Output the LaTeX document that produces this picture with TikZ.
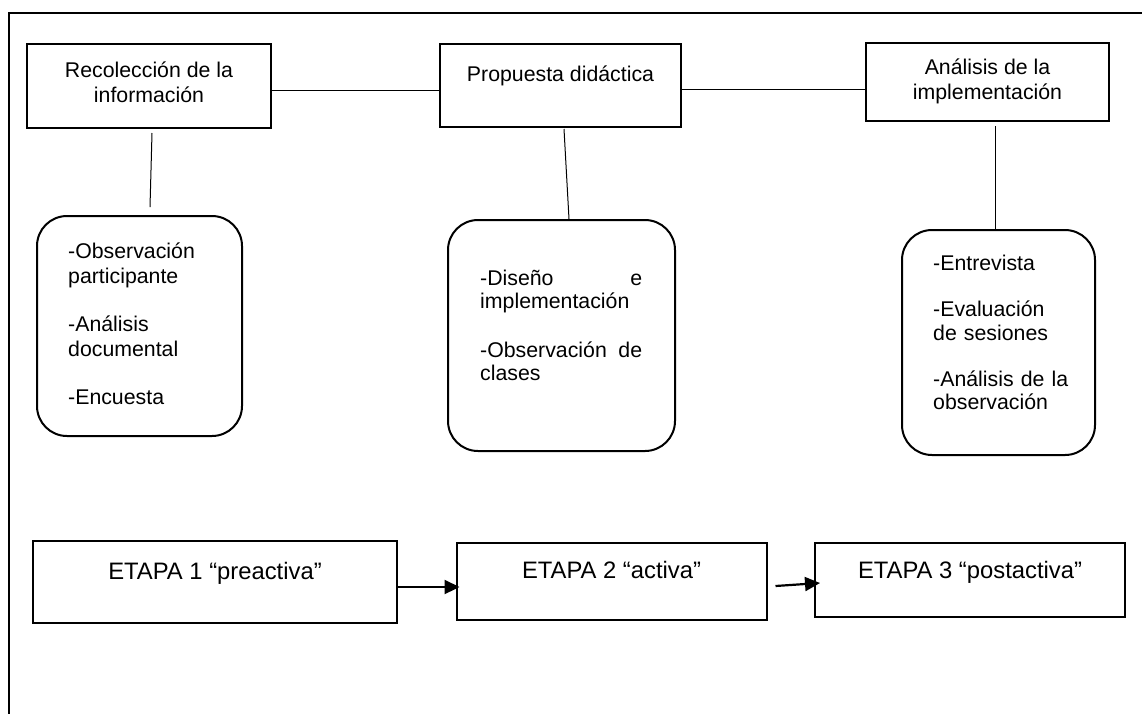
\documentclass[tikz,border=0pt]{standalone}
\usepackage{fontspec}
\setmainfont{Liberation Sans}
\usetikzlibrary{arrows.meta}
\begin{document}
\begin{tikzpicture}[x=1pt,y=-1pt,
  sqbox/.style 2 args={draw,line width=2pt,rectangle,inner sep=0pt,
    minimum width=#1pt,minimum height=#2pt},
  rbox/.style 2 args={draw,line width=2pt,rectangle,rounded corners=30pt,
    inner sep=0pt,minimum width=#1pt,minimum height=#2pt},
  lbl/.style={inner sep=0pt,anchor=base,align=center,
    font=\fontsize{21.3}{25}\selectfont},
  item/.style={inner sep=0pt,anchor=base west,align=left,
    font=\fontsize{21.3}{#1}\selectfont},
  stage/.style={inner sep=0pt,anchor=base,font=\fontsize{23.8}{28}\selectfont},
  link/.style={line width=1pt},
  flow/.style={line width=2.2pt,-{Triangle[length=15pt,width=14pt]}}
]
\useasboundingbox (0,0) rectangle (1142,713);

% outer frame (only top and left edges are visible)
\draw[line width=2pt] (1150,13) -- (9,13) -- (9,720);

% phase headers (multi-line labels sit on the baseline of their last line)
\node[sqbox={244}{84}] (h1) at (149,86) {};
\node[sqbox={241}{83}] (h2) at (560.5,85.5) {};
\node[sqbox={243}{78}] (h3) at (987.5,82) {};
\node[lbl] (h1t) at (149,102) {Recolección de la\\información};
\node[lbl] (h2t) at (560.5,81.5) {Propuesta didáctica};
\node[lbl] (h3t) at (987.5,99.5) {Análisis de la\\implementación};

% technique boxes (text-width nodes sit on the baseline of their first line)
\node[rbox={205}{220}] (r1) at (139.5,326) {};
\node[rbox={227}{231}] (r2) at (561.5,335.5) {};
\node[rbox={193}{225}] (r3) at (998.5,342.5) {};
\node[item=25.5,text width=160pt] (r1t) at (68,258)
  {-Observación\\participante\\[22pt]-Análisis\\documental\\[22pt]-Encuesta};
\node[item=23.5,text width=162pt] (r2t) at (480,285)
  {-Diseño\hfill e\\implementación\\[25pt]-Observación\hfill de\\clases};
\node[item=23.5,text width=155pt] (r3t) at (933,270.5)
  {-Entrevista\\[22.5pt]-Evaluación\\de sesiones\\[22.5pt]-Análisis de la\\observación};

% stage boxes
\node[sqbox={364}{82}] (s1) at (215,582) {};
\node[sqbox={310}{77}] (s2) at (611.5,581.5) {};
\node[sqbox={310}{74}] (s3) at (970,580) {};
\node[stage] (s1t) at (215,579) {ETAPA 1 “preactiva”};
\node[stage] (s2t) at (611.5,578) {ETAPA 2 “activa”};
\node[stage] (s3t) at (970,578) {ETAPA 3 “postactiva”};

% links between headers
\draw[link] (h1.east |- 0,90) -- (h2.west |- 0,90);
\draw[link] (h2.east |- 0,89) -- (h3.west |- 0,89);

% links from headers to technique boxes
\draw[link] ([shift={(3,4)}]h1.south) -- ([shift={(10.5,-8)}]r1.north);
\draw[link] ([shift={(3.5,1)}]h2.south) -- ([shift={(7.5,0)}]r2.north);
\draw[link] ([shift={(7.5,4)}]h3.south) -- ([shift={(-3.5,0)}]r3.north);

% stage sequence
\draw[flow] (s1.east |- 0,587) -- ([xshift=4pt]s2.west |- 0,587);
\draw[flow] ([shift={(8,4.5)}]s2.east) -- ([shift={(6,3)}]s3.west);
\end{tikzpicture}
\end{document}
